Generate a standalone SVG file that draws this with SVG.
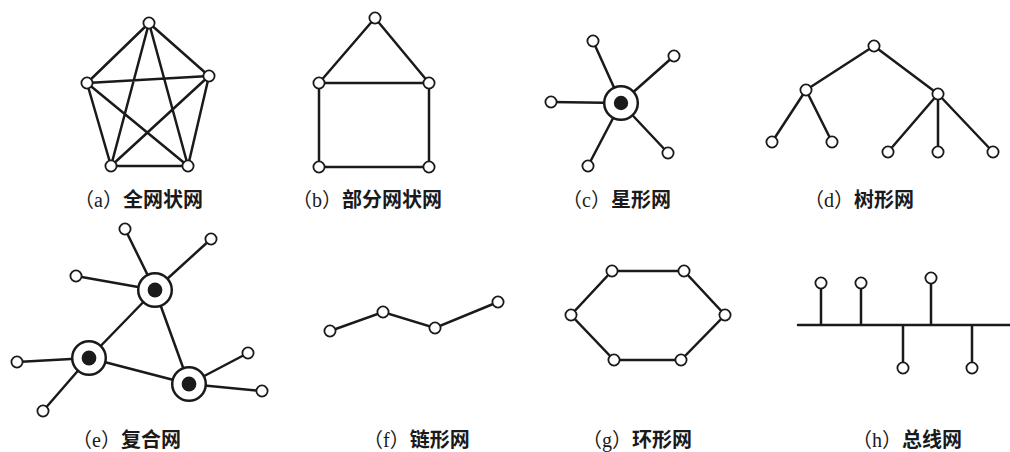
<svg xmlns="http://www.w3.org/2000/svg" width="1010" height="452" viewBox="0 0 1010 452">
<style>
.e{stroke:#1a1a1a;stroke-width:2.5;fill:none;stroke-linecap:round}
.n{fill:#fff;stroke:#1a1a1a;stroke-width:1.8}
.h{fill:#fff;stroke:#1a1a1a;stroke-width:2.5}
.d{fill:#1a1a1a}
.lb{font-family:"Liberation Serif","Noto Sans CJK SC",serif;font-size:20px;fill:#1a1a1a}
.cj{font-family:"Noto Sans CJK SC",sans-serif;font-weight:bold}
</style>
<rect width="1010" height="452" fill="#fff"/>
<g id="connectors">
<path class="e" d="M149,23L209,76M149,23L87,83M149,23L111,166M149,23L188,166M209,76L87,83M209,76L111,166M209,76L188,166M87,83L111,166M87,83L188,166M111,166L188,166"/>
<path class="e" d="M375,18L319,83M375,18L429,83M319,83L429,83M319,83L319,167M429,83L429,167M319,167L429,167"/>
<path class="e" d="M621,103L593,41M621,103L674,56M621,103L551,102M621,103L588,166M621,103L668,153"/>
<path class="e" d="M874,46L806,90M874,46L938,94M806,90L772,142M806,90L832,142M938,94L888,152M938,94L938,152M938,94L993,152"/>
<path class="e" d="M155,290L125,229M155,290L211,239M155,290L76,276M155,290L89,358M155,290L189,384M89,358L189,384M89,358L17,362M89,358L43,411M189,384L248,353M189,384L262,391"/>
<path class="e" d="M330,331L383,312L435,328L498,302"/>
<path class="e" d="M612,271L684,271L725,315L681,360L614,360L571,315Z"/>
<path class="e" d="M798,325H1010M821,325V288M861,325V288M931,325V283M903,325V363M972,325V363" stroke-linecap="butt"/>
</g>
<g id="a-nodes">
<circle class="n" cx="149" cy="23" r="5.6"/><circle class="n" cx="209" cy="76" r="5.6"/><circle class="n" cx="87" cy="83" r="5.6"/><circle class="n" cx="111" cy="166" r="5.6"/><circle class="n" cx="188" cy="166" r="5.6"/>
</g>
<g id="b-nodes">
<circle class="n" cx="375" cy="18" r="5.6"/><circle class="n" cx="319" cy="83" r="5.6"/><circle class="n" cx="429" cy="83" r="5.6"/><circle class="n" cx="319" cy="167" r="5.6"/><circle class="n" cx="429" cy="167" r="5.6"/>
</g>
<g id="c-nodes">
<circle class="h" cx="621" cy="103" r="16.8"/><circle class="d" cx="621" cy="103" r="7.2"/>
<circle class="n" cx="593" cy="41" r="5.6"/><circle class="n" cx="674" cy="56" r="5.6"/><circle class="n" cx="551" cy="102" r="5.6"/><circle class="n" cx="588" cy="166" r="5.6"/><circle class="n" cx="668" cy="153" r="5.6"/>
</g>
<g id="d-nodes">
<circle class="n" cx="874" cy="46" r="5.6"/><circle class="n" cx="806" cy="90" r="5.6"/><circle class="n" cx="938" cy="94" r="5.6"/><circle class="n" cx="772" cy="142" r="5.6"/><circle class="n" cx="832" cy="142" r="5.6"/><circle class="n" cx="888" cy="152" r="5.6"/><circle class="n" cx="938" cy="152" r="5.6"/><circle class="n" cx="993" cy="152" r="5.6"/>
</g>
<g id="e-nodes">
<circle class="h" cx="155" cy="290" r="16.8"/><circle class="d" cx="155" cy="290" r="7.4"/>
<circle class="h" cx="89" cy="358" r="16.8"/><circle class="d" cx="89" cy="358" r="7.4"/>
<circle class="h" cx="189" cy="384" r="16.8"/><circle class="d" cx="189" cy="384" r="7.4"/>
<circle class="n" cx="125" cy="229" r="5.6"/><circle class="n" cx="211" cy="239" r="5.6"/><circle class="n" cx="76" cy="276" r="5.6"/><circle class="n" cx="17" cy="362" r="5.6"/><circle class="n" cx="43" cy="411" r="5.6"/><circle class="n" cx="248" cy="353" r="5.6"/><circle class="n" cx="262" cy="391" r="5.6"/>
</g>
<g id="f-nodes">
<circle class="n" cx="330" cy="331" r="5.6"/><circle class="n" cx="383" cy="312" r="5.6"/><circle class="n" cx="435" cy="328" r="5.6"/><circle class="n" cx="498" cy="302" r="5.6"/>
</g>
<g id="g-nodes">
<circle class="n" cx="612" cy="271" r="5.6"/><circle class="n" cx="684" cy="271" r="5.6"/><circle class="n" cx="725" cy="315" r="5.6"/><circle class="n" cx="681" cy="360" r="5.6"/><circle class="n" cx="614" cy="360" r="5.6"/><circle class="n" cx="571" cy="315" r="5.6"/>
</g>
<g id="h-nodes">
<circle class="n" cx="821" cy="283" r="5.6"/><circle class="n" cx="861" cy="283" r="5.6"/><circle class="n" cx="931" cy="278" r="5.6"/><circle class="n" cx="903" cy="368" r="5.6"/><circle class="n" cx="972" cy="368" r="5.6"/>
</g>
<g id="labels">
<text class="lb" x="74" y="207">（a）<tspan class="cj">全网状网</tspan></text>
<text class="lb" x="292" y="207">（b）<tspan class="cj">部分网状网</tspan></text>
<text class="lb" x="562" y="207">（c）<tspan class="cj">星形网</tspan></text>
<text class="lb" x="804" y="207">（d）<tspan class="cj">树形网</tspan></text>
<text class="lb" x="72" y="447">（e）<tspan class="cj">复合网</tspan></text>
<text class="lb" x="363" y="447">（f）<tspan class="cj">链形网</tspan></text>
<text class="lb" x="582" y="447">（g）<tspan class="cj">环形网</tspan></text>
<text class="lb" x="852" y="447">（h）<tspan class="cj">总线网</tspan></text>
</g>
</svg>
